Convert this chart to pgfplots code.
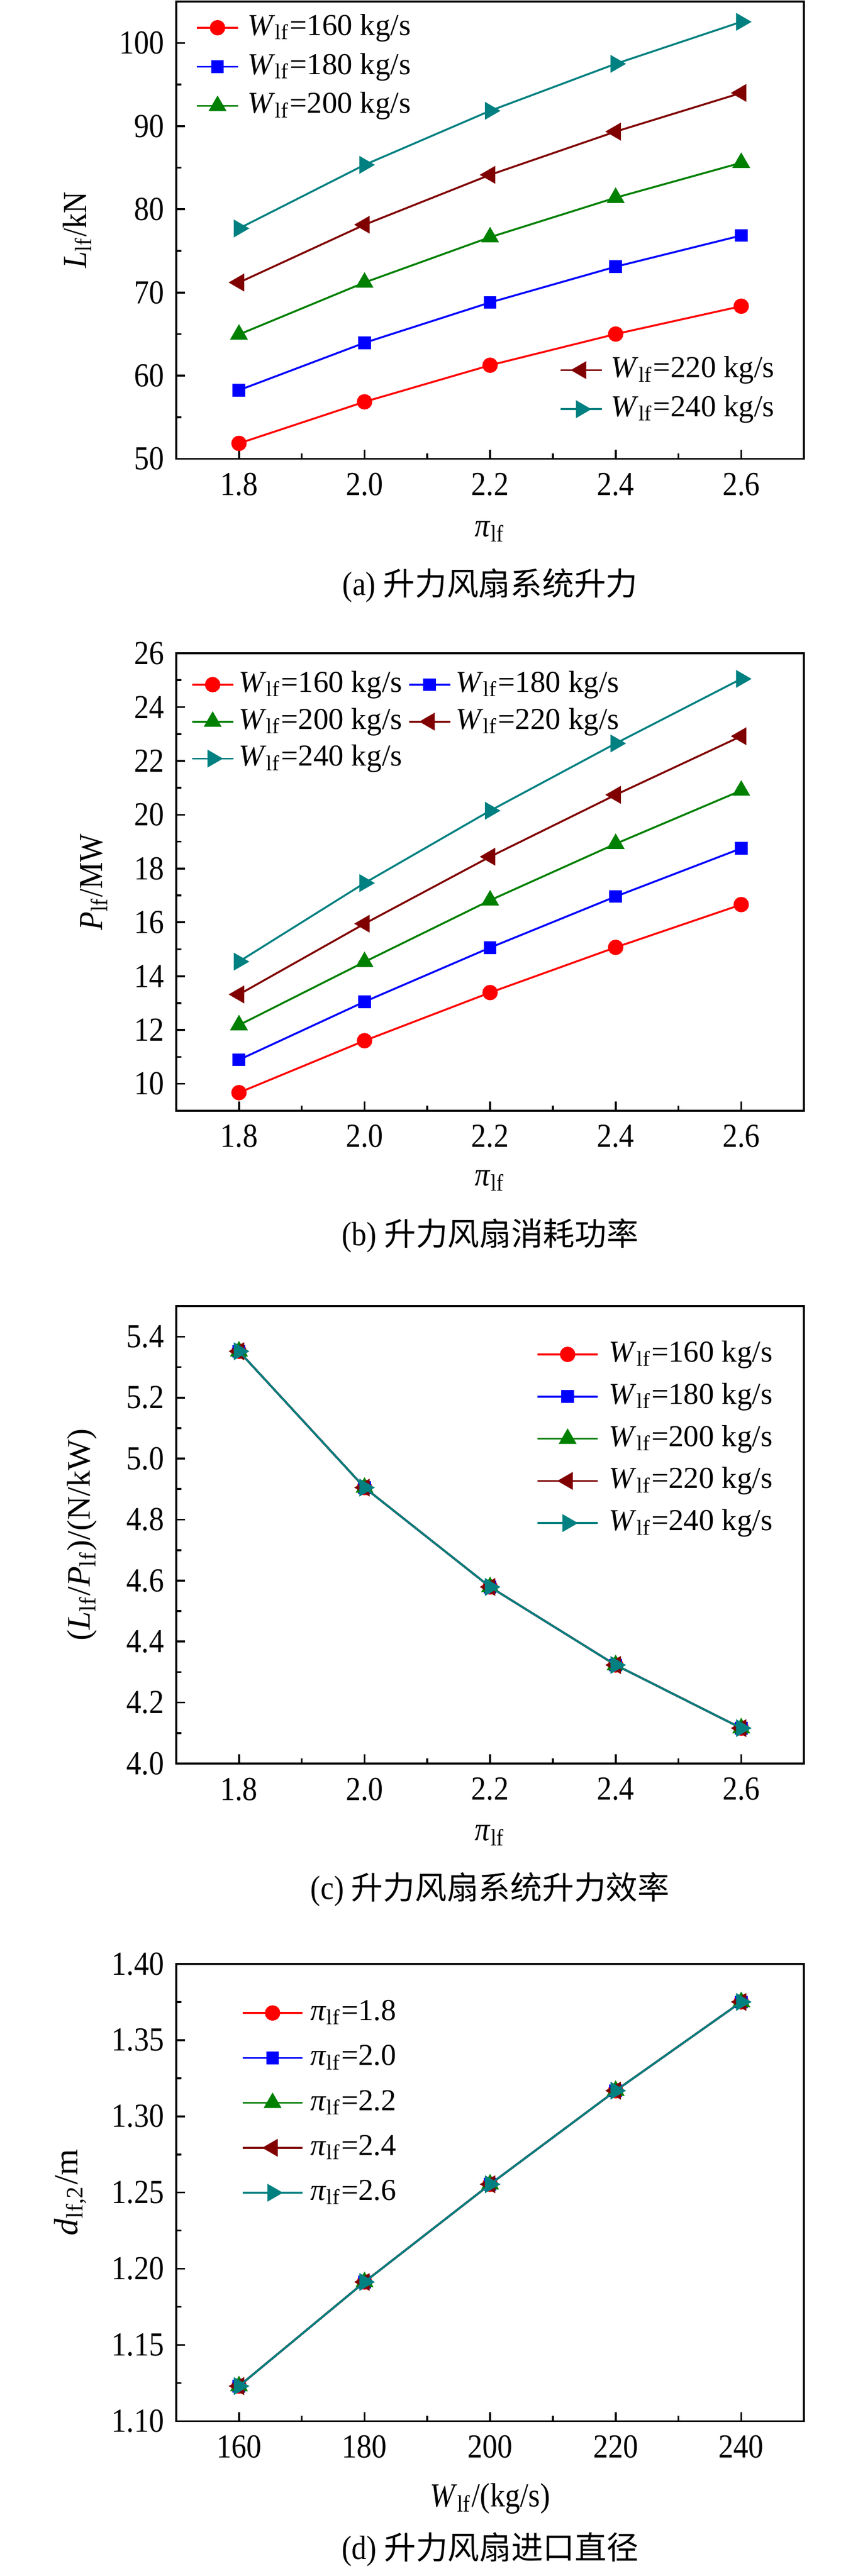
\documentclass[border=0pt]{standalone}
\usepackage{fontspec}
\setmainfont{Liberation Serif}[FakeStretch=0.89]
\newfontfamily\widefont{Liberation Serif}
\newfontfamily\cjk{Noto Sans CJK SC}
\usepackage{pgfplots}
\pgfplotsset{compat=1.18}
\definecolor{cred}{RGB}{255,0,0}
\definecolor{cblue}{RGB}{0,0,255}
\definecolor{cgreen}{RGB}{0,128,0}
\definecolor{cdred}{RGB}{128,0,0}
\definecolor{cteal}{RGB}{0,128,128}
\newcommand{\fs}{\fontsize{9.73}{11.7}\selectfont}
\newcommand{\lfs}{\widefont\fontsize{8.8}{10.5}\selectfont}
\newcommand{\Wlf}{\textit{W}\textsubscript{lf}}
\newcommand{\pilf}{\textit{π}\textsubscript{lf}}
\tikzset{capt/.style={font=\fs, anchor=center}}
\pgfplotsset{
 panel/.style={scale only axis, width=181.58pt, height=132.3pt, anchor=north west,
   clip mode=individual,
   axis line style={line width=0.55pt}, tick align=inside, xtick pos=bottom, ytick pos=left,
   major tick length=2.6pt, minor tick length=1.5pt, tick style={line width=0.55pt, black},
   minor x tick num=1, minor y tick num=1,
   /pgf/number format/assume math mode=true,
   tick label style={font=\fs},
   xticklabel style={yshift=-0.6pt},
   label style={font=\fs},
   every axis plot/.append style={line width=0.55pt},
   legend style={draw=none, fill=none, inner sep=0pt, font=\lfs,
     nodes={inner sep=0pt, text height=7.3pt, text depth=3pt}},
   legend cell align=left,
 },
 lgap/.style={legend style={/tikz/every odd column/.append style={column sep=#1}}},
 s160/.style={color=cred, mark=*, mark size=1.95pt},
 s180/.style={color=cblue, mark=square*, mark size=1.55pt},
 s200/.style={color=cgreen, mark=triangle*, mark size=2.45pt},
 s220/.style={color=cdred, mark=triangle*, mark size=2.45pt, mark options={rotate=90}},
 s240/.style={color=cteal, mark=triangle*, mark size=2.45pt, mark options={rotate=-90}},
 shortleg/.style={legend image code/.code={\draw[mark repeat=2,mark phase=2] plot coordinates {(0pt,0pt) (5.95pt,0pt) (11.9pt,0pt)};}},
 longleg/.style={legend image code/.code={\draw[mark repeat=2,mark phase=2] plot coordinates {(0pt,0pt) (8.7pt,0pt) (17.4pt,0pt)};}},
 pix/.style={xmin=1.7, xmax=2.7, xtick={1.8,2.0,2.2,2.4,2.6},
   xticklabel style={/pgf/number format/.cd, fixed, fixed zerofill, precision=1}},
}
\newcommand{\cj}[1]{{\cjk\fontsize{9.2}{11}\selectfont #1}}
\begin{document}
\begin{tikzpicture}
\useasboundingbox (0,0) rectangle (248.08pt,-745.22pt);
% ---------------- (a)
\begin{axis}[panel, pix, shortleg, lgap=2.4pt, at={(50.96pt,-0.42pt)},
  ymin=50, ymax=105, ytick={50,60,70,80,90,100},
  xlabel={\pilf}, xlabel style={at={(axis description cs:0.5,-0.159)}, anchor=center},
  ylabel={\textit{L}\textsubscript{lf}/kN}, ylabel style={at={(axis description cs:-0.158,0.5)}, anchor=center},
  legend style={at={(0.0305,0.983)}, anchor=north west, row sep=1.0pt}]
\addplot[s160] coordinates {(1.8,51.85) (2.0,56.85) (2.2,61.25) (2.4,65.0) (2.6,68.35)};
\addlegendentry{\Wlf=160 kg/s}
\addplot[s180] coordinates {(1.8,58.25) (2.0,63.95) (2.2,68.8) (2.4,73.1) (2.6,76.85)};
\addlegendentry{\Wlf=180 kg/s}
\addplot[s200] coordinates {(1.8,64.95) (2.0,71.2) (2.2,76.65) (2.4,81.4) (2.6,85.6)};
\addlegendentry{\Wlf=200 kg/s}
\node[capt] at (axis description cs:0.5,-0.277) {(a) \cj{升力风扇系统升力}};
\end{axis}
\begin{axis}[panel, pix, shortleg, lgap=2.4pt, at={(50.96pt,-0.42pt)}, hide axis,
  ymin=50, ymax=105,
  legend style={at={(0.954,0.068)}, anchor=south east, row sep=1.0pt}]
\addplot[s220] coordinates {(1.8,71.2) (2.0,78.15) (2.2,84.15) (2.4,89.35) (2.6,94.0)};
\addlegendentry{\Wlf=220 kg/s}
\addplot[s240] coordinates {(1.8,77.7) (2.0,85.35) (2.2,91.85) (2.4,97.5) (2.6,102.55)};
\addlegendentry{\Wlf=240 kg/s}
\end{axis}
% ---------------- (b)
\begin{axis}[panel, pix, shortleg, lgap=1.3pt, at={(50.96pt,-189.0pt)},
  ymin=9, ymax=26, ytick={10,12,14,16,18,20,22,24,26},
  xlabel={\pilf}, xlabel style={at={(axis description cs:0.5,-0.153)}, anchor=center},
  ylabel={\textit{P}\textsubscript{lf}/MW}, ylabel style={at={(axis description cs:-0.131,0.5)}, anchor=center},
  legend columns=2,
  legend style={at={(0.0227,0.972)}, anchor=north west, row sep=0.4pt,
    /tikz/every even column/.append style={column sep=1.7pt}}]
\addplot[s160] coordinates {(1.8,9.67) (2.0,11.6) (2.2,13.39) (2.4,15.07) (2.6,16.66)};
\addlegendentry{\Wlf=160 kg/s}
\addplot[s180] coordinates {(1.8,10.89) (2.0,13.05) (2.2,15.06) (2.4,16.96) (2.6,18.75)};
\addlegendentry{\Wlf=180 kg/s}
\addplot[s200] coordinates {(1.8,12.18) (2.0,14.53) (2.2,16.82) (2.4,18.92) (2.6,20.9)};
\addlegendentry{\Wlf=200 kg/s}
\addplot[s220] coordinates {(1.8,13.32) (2.0,15.95) (2.2,18.44) (2.4,20.74) (2.6,22.92)};
\addlegendentry{\Wlf=220 kg/s}
\addplot[s240] coordinates {(1.8,14.54) (2.0,17.46) (2.2,20.15) (2.4,22.65) (2.6,25.05)};
\addlegendentry{\Wlf=240 kg/s}
\node[capt] at (axis description cs:0.5,-0.273) {(b) \cj{升力风扇消耗功率}};
\end{axis}
% ---------------- (c)
\begin{axis}[panel, pix, longleg, lgap=3.0pt, at={(50.96pt,-377.86pt)},
  ymin=4.0, ymax=5.5, ytick={4.0,4.2,4.4,4.6,4.8,5.0,5.2,5.4},
  yticklabel style={/pgf/number format/.cd, fixed, fixed zerofill, precision=1},
  xlabel={\pilf}, xlabel style={at={(axis description cs:0.5,-0.157)}, anchor=center},
  ylabel={\widefont\fontsize{9.5}{11}\selectfont(\textit{L}\textsubscript{lf}/\textit{P}\textsubscript{lf})/(N/kW)},
  ylabel style={at={(axis description cs:-0.150,0.5)}, anchor=center},
  legend style={at={(0.951,0.935)}, anchor=north east, row sep=1.9pt}]
\addplot[s160] coordinates {(1.8,5.352) (2.0,4.905) (2.2,4.579) (2.4,4.323) (2.6,4.116)};
\addlegendentry{\Wlf=160 kg/s}
\addplot[s180] coordinates {(1.8,5.352) (2.0,4.905) (2.2,4.579) (2.4,4.323) (2.6,4.116)};
\addlegendentry{\Wlf=180 kg/s}
\addplot[s200] coordinates {(1.8,5.352) (2.0,4.905) (2.2,4.579) (2.4,4.323) (2.6,4.116)};
\addlegendentry{\Wlf=200 kg/s}
\addplot[s220] coordinates {(1.8,5.352) (2.0,4.905) (2.2,4.579) (2.4,4.323) (2.6,4.116)};
\addlegendentry{\Wlf=220 kg/s}
\addplot[s240] coordinates {(1.8,5.352) (2.0,4.905) (2.2,4.579) (2.4,4.323) (2.6,4.116)};
\addlegendentry{\Wlf=240 kg/s}
\node[capt] at (axis description cs:0.5,-0.275) {(c) \cj{升力风扇系统升力效率}};
\end{axis}
% ---------------- (d)
\begin{axis}[panel, longleg, lgap=2.0pt, at={(50.96pt,-568.12pt)},
  xmin=150, xmax=250, xtick={160,180,200,220,240},
  ymin=1.10, ymax=1.40, ytick={1.10,1.15,1.20,1.25,1.30,1.35,1.40},
  yticklabel style={/pgf/number format/.cd, fixed, fixed zerofill, precision=2},
  xlabel={\Wlf/(kg/s)}, xlabel style={at={(axis description cs:0.5,-0.169)}, anchor=center},
  ylabel={\widefont\fontsize{9.73}{11.7}\selectfont\textit{d}\textsubscript{lf,2}/m}, ylabel style={at={(axis description cs:-0.169,0.5)}, anchor=center},
  legend style={at={(0.103,0.933)}, anchor=north west, row sep=2.7pt}]
\addplot[s160] coordinates {(160,1.123) (180,1.1913) (200,1.2554) (220,1.3168) (240,1.3750)};
\addlegendentry{\pilf=1.8}
\addplot[s180] coordinates {(160,1.123) (180,1.1913) (200,1.2554) (220,1.3168) (240,1.3750)};
\addlegendentry{\pilf=2.0}
\addplot[s200] coordinates {(160,1.123) (180,1.1913) (200,1.2554) (220,1.3168) (240,1.3750)};
\addlegendentry{\pilf=2.2}
\addplot[s220] coordinates {(160,1.123) (180,1.1913) (200,1.2554) (220,1.3168) (240,1.3750)};
\addlegendentry{\pilf=2.4}
\addplot[s240] coordinates {(160,1.123) (180,1.1913) (200,1.2554) (220,1.3168) (240,1.3750)};
\addlegendentry{\pilf=2.6}
\node[capt] at (axis description cs:0.5,-0.281) {(d) \cj{升力风扇进口直径}};
\end{axis}
\end{tikzpicture}
\end{document}
